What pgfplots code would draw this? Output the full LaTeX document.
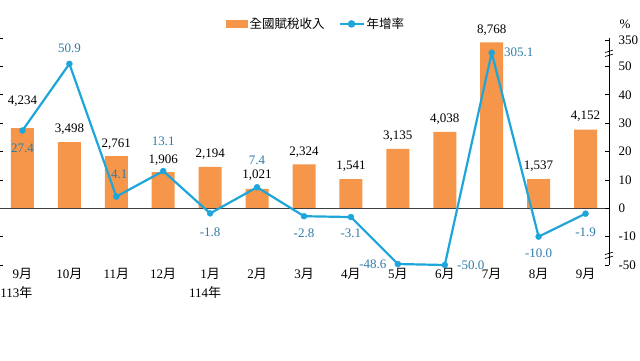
\documentclass[border=0pt]{standalone}
\usepackage{fontspec}
\setmainfont{Liberation Serif}
\newfontfamily\cjk{Noto Sans CJK TC}
\usepackage{pgfplots}
\pgfplotsset{compat=1.18}
\usepackage{pgfplotstable}
\definecolor{barorange}{HTML}{F5964A}
\definecolor{lineblue}{HTML}{1EA5DA}
\definecolor{lblblue}{HTML}{2F7BA6}
\definecolor{zeroc}{HTML}{404040}
\newcommand\M{{\cjk 月}}
\newcommand\Y{{\cjk 年}}
\newcommand\numfont{\fontsize{13}{19}\selectfont}

% national tax revenue (100 million NTD)
\pgfplotstableread{
x y lab dy
0 4234 4,234 27
1 3498 3,498 13
2 2761 2,761 12
3 1906 1,906 12
4 2194 2,194 13
5 1021 1,021 14
6 2324 2,324 12
7 1541 1,541 13
8 3135 3,135 13
9 4038 4,038 13
10 8768 8,768 12
11 1537 1,537 13
12 4152 4,152 14
}\bars

% year-on-year growth (%); y = position on the broken right axis
\pgfplotstableread{
x y lab dx dy
0 27.4 27.4 0 -18
1 50.9 50.9 0 16
2 4.1 4.1 3 22
3 13.1 13.1 0 30
4 -1.8 -1.8 0 -19
5 7.4 7.4 0 27
6 -2.8 -2.8 0 -17
7 -3.1 -3.1 0 -16
8 -19.65 -48.6 -25 0
9 -20 -50.0 26 0
10 54.8 305.1 27 0
11 -10.0 -10.0 0 -17
12 -1.9 -1.9 0 -19
}\growth

\begin{document}
\begin{tikzpicture}
\begin{axis}[
  scale only axis, width=610pt, height=227pt,
  xmin=-0.5, xmax=12.5, ymin=-3000, ymax=9000,
  axis x line*=bottom, axis y line*=left,
  x axis line style={draw=none}, y axis line style={draw=none},
  xtick=data,
  xticklabels={9\M\\113\Y\hspace*{12pt}, 10\M, 11\M, 12\M, 1\M\\114\Y\hspace*{10pt}, 2\M, 3\M, 4\M, 5\M, 6\M, 7\M, 8\M, 9\M},
  xticklabel style={align=center, font=\numfont, text=black},
  x tick style={draw=none},
  ytick={-3000,-1500,...,9000}, yticklabels={},
  tick align=inside, major tick length=4pt,
  y tick style={black, line width=0.6pt},
  clip=false,
]
\addplot[ybar, bar width=23pt, fill=barorange, draw=none,
  nodes near coords, point meta=explicit symbolic,
  visualization depends on={\thisrow{dy}\as\dy},
  every node near coord/.append style={anchor=center, yshift=\dy pt, text=black, font=\numfont}]
  table[x=x, y=y, meta=lab]{\bars};
\addplot[draw=zeroc, line width=1.2pt, forget plot] coordinates {(-0.5,0) (12.5,0)};
\end{axis}

\begin{axis}[
  scale only axis, width=610pt, height=227pt,
  xmin=-0.5, xmax=12.5, ymin=-20, ymax=60,
  axis x line=none, axis y line*=right,
  y axis line style={black, line width=0.8pt},
  ytick={-20,-10,0,10,20,30,40,50,59.3},
  yticklabels={-50,-10,0,10,20,30,40,50,350},
  yticklabel style={font=\numfont, xshift=6pt, text=black},
  tick align=inside, major tick length=4pt,
  y tick style={black, line width=0.6pt},
  clip=false,
  legend columns=2,
  legend style={draw=none, fill=none, inner sep=0pt,
    at={(axis description cs:0.372,1.062)}, anchor=west,
    nodes={inner sep=2pt, font=\cjk\fontsize{12.5}{14}\selectfont},
    /tikz/every even column/.append style={column sep=12pt}},
]
\addlegendimage{legend image code/.code={\fill[barorange] (0pt,-3.5pt) rectangle (21pt,3.5pt);}}
\addlegendentry{全國賦稅收入}
\addplot[lineblue, line width=2.2pt, mark=*, mark size=3pt,
  mark options={solid, fill=lineblue, line width=0.4pt},
  legend image code/.code={\draw[lineblue, line width=2pt] (0pt,0pt) -- (24pt,0pt); \fill[lineblue] (12pt,0pt) circle (2.6pt);},
  nodes near coords, point meta=explicit symbolic,
  visualization depends on={\thisrow{dx}\as\dx},
  visualization depends on={\thisrow{dy}\as\dy},
  every node near coord/.append style={anchor=center, xshift=\dx pt, yshift=\dy pt, text=lblblue, font=\numfont}]
  table[x=x, y=y, meta=lab]{\growth};
\addlegendentry{年增率}
% axis break marks
\fill[white] (axis cs:12.5,53.9) ++(-3pt,0) rectangle ++(6pt,4pt);
\draw[black, line width=0.7pt] (axis cs:12.5,53.9) ++(-4pt,-1.2pt) -- ++(8pt,2.4pt);
\draw[black, line width=0.7pt] (axis cs:12.5,53.9) ++(-4pt,2.8pt) -- ++(8pt,2.4pt);
\fill[white] (axis cs:12.5,-17.3) ++(-3pt,0) rectangle ++(6pt,4pt);
\draw[black, line width=0.7pt] (axis cs:12.5,-17.3) ++(-4pt,-1.2pt) -- ++(8pt,2.4pt);
\draw[black, line width=0.7pt] (axis cs:12.5,-17.3) ++(-4pt,2.8pt) -- ++(8pt,2.4pt);
\node[font=\numfont] at (rel axis cs:1,1) [xshift=16pt, yshift=14pt] {\%};
\end{axis}
\pgfresetboundingbox
\useasboundingbox (1pt,-95pt) rectangle (641pt,265pt);
\end{tikzpicture}
\end{document}
